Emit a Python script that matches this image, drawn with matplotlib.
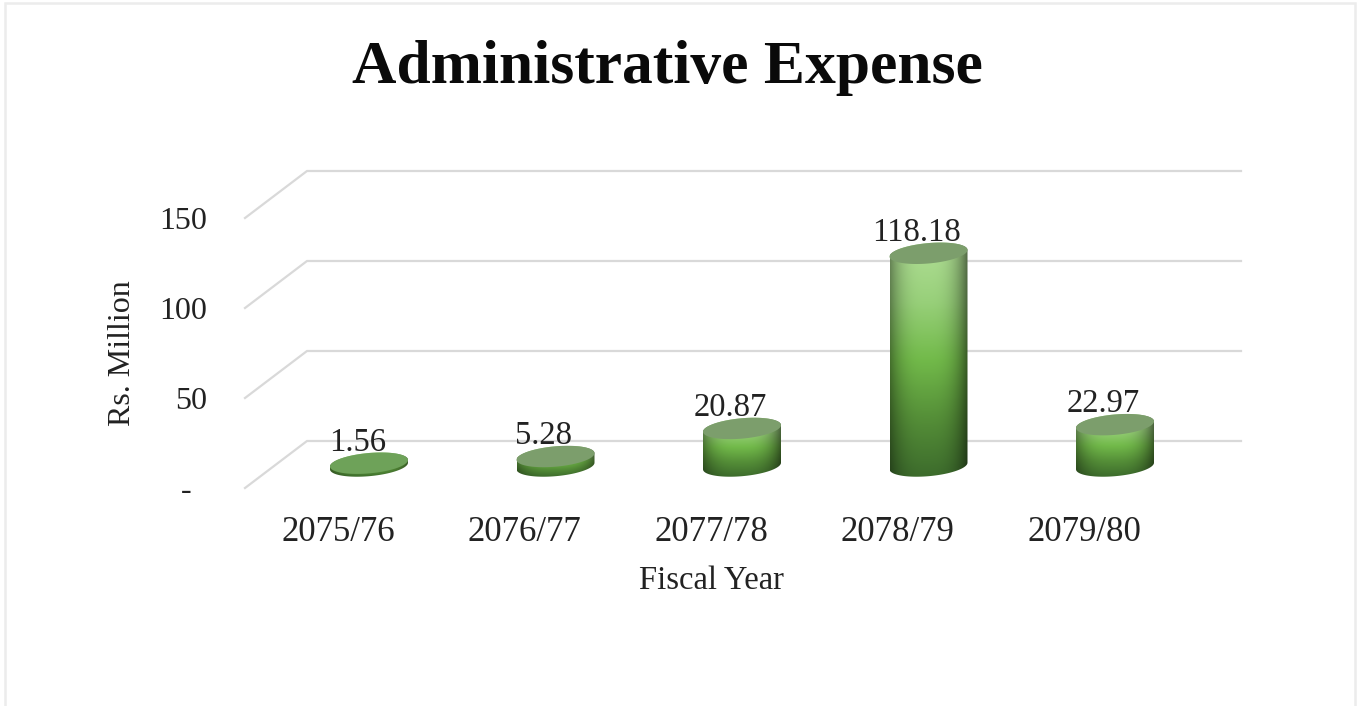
import numpy as np
import matplotlib
matplotlib.use("Agg")
import matplotlib.pyplot as plt
from matplotlib.colors import LinearSegmentedColormap
from matplotlib.patches import PathPatch, Rectangle
from matplotlib.path import Path

W, H = 1360, 706

years = ["2075/76", "2076/77", "2077/78", "2078/79", "2079/80"]
values = [1.56, 5.28, 20.87, 118.18, 22.97]
labels = ["1.56", "5.28", "20.87", "118.18", "22.97"]
y_ticks = [0, 50, 100, 150]
y_tick_labels = ["-  ", "50", "100", "150"]

# pixel scales of the plot box
LEFT, RIGHT, TOP, BOTTOM = 245, 1241, 171, 488
PX_X = 186.5   # px per category
PX_Y = 1.8     # px per Rs. Million

DEPTH_X = 62 / PX_X
DEPTH_Y = 47 / PX_Y
BAR_BASE = 22 / PX_Y    # bars stand mid-way on the floor
BAR_A = 39 / PX_X
BAR_B = 10.2 / PX_Y
BAR_TILT = 3.3 / PX_Y   # ellipse rises to the right

plt.rcParams["font.family"] = ["Liberation Serif", "DejaVu Serif"]

body_cmap = LinearSegmentedColormap.from_list(
    "body", ["#b0de95", "#98d07a", "#72ba4a", "#558f38", "#3d6c2c"])


def ellipse(xc, yc, t):
    return xc + BAR_A * np.cos(t), yc + BAR_B * np.sin(t) + BAR_TILT * np.cos(t)


def draw_cylinder(ax, xc, value):
    top = BAR_BASE + value

    # side of the cylinder, shaded image clipped to the outline
    t_low = np.linspace(np.pi, 2 * np.pi, 60)
    t_up = np.linspace(0, np.pi, 60)
    x1, y1 = ellipse(xc, BAR_BASE, t_low)
    x2, y2 = ellipse(xc, top, t_up)
    verts = np.column_stack([np.r_[x1, x2], np.r_[y1, y2]])
    outline = Path(np.vstack([verts, verts[0]]), closed=True)

    y_lo, y_hi = verts[:, 1].min(), verts[:, 1].max()
    u = np.linspace(-1, 1, 80)
    v = np.linspace(0, 1, 120)
    shade = 1 - 0.45 * np.abs(u + 0.05) ** 3
    rgb = body_cmap(v)[:, :3][:, None, :] * shade[None, :, None]
    im = ax.imshow(rgb, extent=[xc - BAR_A, xc + BAR_A, y_lo, y_hi], origin="upper",
                   aspect="auto", zorder=3, interpolation="bilinear")
    patch = PathPatch(outline, transform=ax.transData, fc="none", ec="none")
    ax.add_patch(patch)
    im.set_clip_path(patch)

    # top face
    t = np.linspace(0, 2 * np.pi, 120)
    xt, yt = ellipse(xc, top, t)
    color = "#6ea259" if value < 3 else "#7c9e6c"
    ax.fill(xt, yt, color=color, lw=0, zorder=4)


fig = plt.figure(figsize=(W / 100, H / 100), dpi=100)
fig.patches.append(Rectangle((5 / W, -0.01), (W - 10) / W, 1.01 - 3 / H, transform=fig.transFigure,
                             fc="white", ec="#ececec", lw=1.8, zorder=-1))
ax = fig.add_axes([LEFT / W, 1 - BOTTOM / H, (RIGHT - LEFT) / W, (BOTTOM - TOP) / H])
ax.patch.set_visible(False)

x = np.arange(len(years))
x_left = (LEFT - 369) / PX_X
x_right = (RIGHT - 369) / PX_X

# floor/wall grid lines with the diagonal depth part
for tick in y_ticks:
    ax.plot([x_left, x_left + DEPTH_X, x_right], [tick, tick + DEPTH_Y, tick + DEPTH_Y],
            color="#d9d9d9", lw=1.6, clip_on=False, zorder=1, solid_joinstyle="miter")

for xc, val, lab in zip(x, values, labels):
    draw_cylinder(ax, xc, val)
    ax.annotate(lab, (xc, BAR_BASE + val), xytext=(-8.5, 4), textcoords="offset points",
                ha="center", va="bottom", fontsize=23.5, color="#222222", zorder=5)

ax.set_xlim(x_left, x_right)
ax.set_ylim(0, (BOTTOM - TOP) / PX_Y)
ax.set_xticks(x - DEPTH_X / 2, years)
ax.set_yticks(y_ticks, y_tick_labels)
ax.tick_params(axis="both", length=0, labelcolor="#222222")
ax.tick_params(axis="x", pad=20.5, labelsize=25)
ax.tick_params(axis="y", pad=27, labelsize=23)
for side in ax.spines.values():
    side.set_visible(False)

ax.set_xlabel("Fiscal Year", fontsize=23.5, color="#222222")
ax.xaxis.set_label_coords((711 - LEFT) / (RIGHT - LEFT), (BOTTOM - 581) / (BOTTOM - TOP), )
ax.xaxis.label.set_va("center")
ax.set_ylabel("Rs. Million", fontsize=23, color="#222222")
ax.yaxis.set_label_coords((122 - LEFT) / (RIGHT - LEFT), (BOTTOM - 353) / (BOTTOM - TOP))
ax.yaxis.label.set_va("center")

fig.suptitle("Administrative Expense", x=667 / W, y=1 - 68 / H, va="center",
             fontsize=44.3, fontweight="bold", color="#0a0a0a")

fig.savefig("out.png", dpi=100, facecolor="white")
